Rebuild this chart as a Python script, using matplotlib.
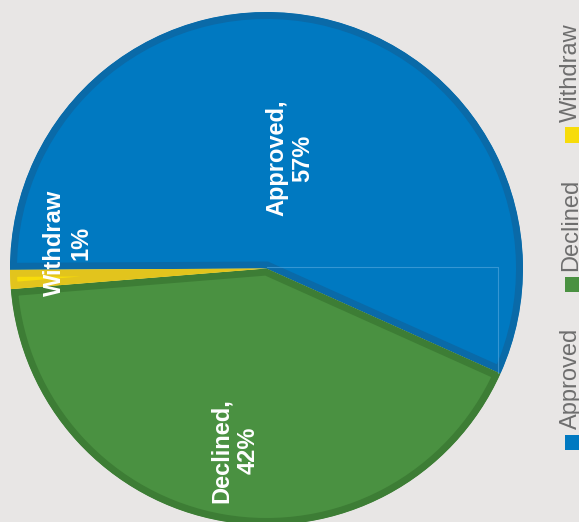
import numpy as np
import matplotlib
matplotlib.use("Agg")
import matplotlib.pyplot as plt
from matplotlib import patches

plt.rcParams['font.family'] = ['Liberation Sans', 'DejaVu Sans']

# data ------------------------------
categories = ['Approved', 'Declined', 'Withdraw']
values = [56.8, 42.0, 1.2]
fills = ['#0079c1', '#4a9141', '#f7dc0a']
borders = ['#0a6aa8', '#3d7d35', '#e2c41d']

# label placement (fraction of radius, angle nudge in degrees)
label_r = [0.44, 0.72, 0.78]
label_shift = [0, 0, -9.8]

bg = '#e8e6e5'
W, H = 579, 522

fig = plt.figure(figsize=(W / 100, H / 100), dpi=100, facecolor=bg)
ax = fig.add_axes([10 / W, -3 / H, 513 / W, 513 / H])
ax.set_facecolor('none')

wedges, _ = ax.pie(values, colors=fills, startangle=180.3, counterclock=False,
                   radius=1, center=(0, 0))
ax.set_xlim(-1, 1)
ax.set_ylim(-1, 1)
ax.axis('off')

# inner stroke: double width edge clipped to the wedge itself
for w, ec in zip(wedges, borders):
    w.set_edgecolor(ec)
    w.set_linewidth(14 * 72 / 100)
    w.set_clip_on(True)
    w.set_clip_path(w)

# labels
total = sum(values)
for w, cat, v, r, sh in zip(wedges, categories, values, label_r, label_shift):
    mid = np.deg2rad((w.theta1 + w.theta2) / 2 + sh)
    pct = int(round(100 * v / total))
    sep = ',' if cat != 'Withdraw' else ''
    ax.text(r * np.cos(mid), r * np.sin(mid), f'{cat}{sep}\n{pct}%',
            rotation=90, ha='center', va='center', multialignment='center',
            color='white', fontsize=17, fontweight='bold')

# faint selection box on the first wedge
edge = np.deg2rad(wedges[0].theta1)
ex, ey = 0.99 * np.cos(edge), 0.99 * np.sin(edge)
ax.plot([0, ex, ex], [0.005, 0.005, ey], color='#5aaae0', lw=0.8, alpha=0.6)

# legend, rotated, built bottom to top
renderer = fig.canvas.get_renderer()
x_sq = 565
sq = 15
y = H - 450
for cat, col in zip(categories, fills):
    fig.patches.append(patches.Rectangle((x_sq / W, y / H), sq / W, sq / H,
                                         transform=fig.transFigure, facecolor=col,
                                         edgecolor='none'))
    t = fig.text(560 / W, (y + sq + 6) / H, cat, rotation=90, ha='left', va='bottom',
                 color='#6e6e6e', fontsize=17)
    bb = t.get_window_extent(renderer)
    y = bb.y1 + 36

fig.savefig('out.png', dpi=100, facecolor=bg)
